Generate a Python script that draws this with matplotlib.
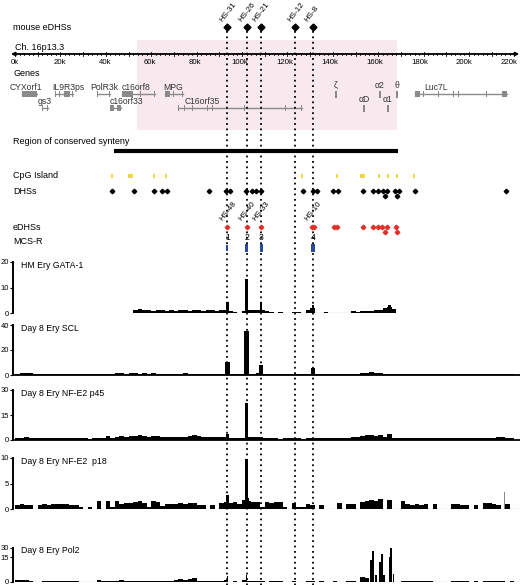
import numpy as np
import matplotlib.pyplot as plt
from matplotlib.patches import Rectangle

plt.rcParams['font.family'] = ['Liberation Sans', 'DejaVu Sans']

# ---------------- data (positions in kb along chr16p13.3) ----------------
mouse_hs_names = ['HS-31', 'HS-26', 'HS-21', 'HS-12', 'HS-8']
mouse_hs_kb = [93.6, 102.0, 108.4, 123.4, 131.3]

edhs_names = ['HS-48', 'HS-40', 'HS-33', 'HS-10']
edhs_named_kb = [93.6, 102.0, 108.4, 131.3]
edhs_kb = [93.6, 102.0, 108.4, 131.0, 131.7, 140.4, 141.7, 153.4, 157.8,
           159.9, 161.8, 164.0, 167.8]
edhs_kb_row2 = [163.0, 168.4]

mcsr_names = ['1', '2', '3', '4']
mcsr_kb = [93.6, 102.0, 108.4, 131.3]
mcsr_width = [0.9, 1.3, 1.3, 1.4]

synteny_kb = (43.6, 168.7)
pink_kb = (53.7, 168.3)

cpg_start = [42.3, 49.6, 60.8, 66.1, 126.0, 141.5, 152.2, 160.0, 163.9, 167.9, 175.4, 216.1]
cpg_end = [43.1, 51.8, 61.6, 66.9, 126.8, 142.3, 154.4, 160.8, 164.7, 168.7, 176.2, 216.5]

dhs_kb = [42.9, 52.4, 61.1, 64.6, 66.8, 85.6, 92.9, 94.7, 101.6, 104.3, 106.2,
          108.4, 126.7, 131.1, 132.9, 140.2, 142.2, 153.4, 157.8, 160.0, 162.0,
          164.0, 167.5, 169.3, 176.2, 216.3]
dhs_kb_row2 = [163.0, 168.4]

gene_names = ['CYXorf1', 'IL9R3ps', 'PolR3k', 'c16orf8', 'MPG',
              'gs3', 'c16orf33', 'C16orf35', 'Luc7L']
gene_start = [3.1, 17.6, 36.0, 47.0, 66.0, 11.9, 42.0, 71.8, 176.2]
gene_end = [9.7, 25.6, 42.0, 61.7, 74.0, 14.5, 46.5, 126.4, 216.6]
gene_row = [0, 0, 0, 0, 0, 1, 1, 1, 0]
gene_exons = [
    [(3.1, 9.7)],
    [(17.6, 18.1), (19.6, 20.0), (21.5, 24.3), (25.2, 25.6)],
    [(36.0, 36.4), (41.6, 42.0)],
    [(47.0, 52.2), (55.0, 55.4), (61.3, 61.7)],
    [(66.0, 68.2), (69.6, 70.0), (73.6, 74.0)],
    [(11.9, 12.3), (14.1, 14.5)],
    [(42.0, 43.6), (44.9, 46.5)],
    [(71.8, 72.3), (74.6, 75.0), (77.8, 78.2), (81.3, 81.7), (84.8, 85.2),
     (87.0, 87.4), (101.1, 101.5), (110.8, 111.2), (118.8, 119.2), (126.0, 126.4)],
    [(176.2, 178.4), (179.6, 180.0), (180.4, 180.8), (186.3, 186.7), (192.9, 193.3),
     (195.1, 195.5), (207.6, 208.0), (214.4, 216.6)],
]
gene_label_kb = [-2.2, 16.3, 33.0, 47.1, 65.2, 10.1, 41.9, 74.9, 180.5]

globin_names = ['\u03b6', '\u03b12', '\u03b8', '\u03b1D', '\u03b11']
globin_kb = [141.4, 160.8, 168.3, 153.7, 164.3]
globin_row = [0, 0, 0, 1, 1]

# ChIP-chip signal tracks: 2 kb bins from 0 to 220 kb, plus narrow peaks
bin_kb = np.arange(0, 220, 2)

gata1_bg = [0, 0, 0, 0, 0, 0, 0, 0, 0, 0,
            0, 0, 0, 0, 0, 0, 0, 0, 0, 0,
            0, 0, 0, 0, 0, 0, 1.2, 1.5, 1.0, 1.2,
            0.9, 1.1, 1.0, 0.9, 1.2, 0.8, 1.0, 1.1, 0.9, 1.0,
            1.1, 0.9, 1.2, 1.0, 0.9, 1.1, 1.3, 0.7, 0.5, 0,
            0.8, 1.2, 1.0, 1.1, 1.0, 0.6, 0.5, 0, 0.5, 0,
            0, 0.4, 0.4, 0, 1.0, 2.0, 0, 0, 0.4, 0,
            0, 0, 0, 0, 0.6, 0.5, 0.8, 0.6, 0.9, 1.0,
            1.2, 1.8, 2.2, 1.5, 0, 0, 0, 0, 0, 0,
            0, 0, 0, 0, 0, 0, 0, 0, 0, 0,
            0, 0, 0, 0, 0, 0, 0, 0, 0, 0]
gata1_peak_kb = [93.6, 102.0, 108.4, 131.2, 165.0]
gata1_peak_val = [4.3, 13.3, 4.5, 3.3, 3.0]

scl_bg = [0.8, 1.5, 1.6, 1.3, 0.8, 0.6, 0.7, 0.5, 0.8, 0.9,
          0.8, 0.9, 0.8, 0.7, 0.9, 1.2, 0.7, 0.5, 0.9, 0.8,
          0.7, 1.1, 1.4, 1.5, 1.2, 1.3, 1.6, 1.2, 1.4, 1.1,
          1.3, 1.0, 1.2, 0.9, 1.1, 1.0, 1.2, 1.3, 1.0, 1.1,
          1.2, 1.0, 1.1, 0.9, 1.2, 1.0, 1.0, 1.1, 0.8, 0.7,
          0.9, 0.8, 1.2, 1.5, 1.0, 0.8, 0.7, 0.9, 0.5, 0.6,
          0.6, 0.5, 0.7, 0.6, 0.8, 1.0, 0.6, 0.5, 0.7, 0.6,
          0.7, 0.6, 0.9, 0.7, 1.0, 1.2, 1.6, 2.0, 2.2, 1.8,
          1.4, 1.2, 0.9, 0.7, 0.8, 0.6, 0.7, 0.8, 0.7, 0.6,
          0.8, 0.7, 0.6, 0.8, 0.7, 0.6, 0.9, 0.7, 0.6, 0.8,
          0.7, 0.6, 0.8, 0.7, 0.6, 0.9, 0.7, 0.8, 0.6, 0.7]
scl_peak_kb = [93.6, 102.0, 108.4, 131.2]
scl_peak_val = [10.4, 35.0, 8.0, 6.0]

p45_bg = [1.2, 1.5, 1.6, 1.3, 1.0, 1.1, 1.0, 1.2, 1.1, 1.0,
          1.0, 1.1, 1.2, 1.0, 1.1, 1.3, 0.9, 1.0, 1.2, 1.1,
          2.6, 1.2, 1.8, 2.2, 1.9, 2.5, 2.3, 2.8, 2.4, 2.0,
          2.2, 2.6, 1.8, 2.0, 1.7, 1.9, 1.8, 1.6, 2.4, 2.8,
          2.5, 1.9, 1.8, 1.7, 1.9, 1.6, 1.8, 1.5, 1.2, 1.3,
          1.4, 1.6, 1.8, 2.0, 1.5, 1.2, 1.3, 1.0, 0.9, 1.1,
          1.0, 1.1, 1.0, 0.9, 1.0, 1.2, 1.1, 1.0, 1.2, 1.1,
          1.3, 1.2, 1.5, 1.4, 1.8, 1.6, 2.2, 2.8, 3.0, 2.4,
          3.2, 2.0, 3.4, 1.5, 1.2, 1.3, 1.1, 1.2, 1.4, 1.2,
          1.1, 1.0, 1.2, 1.4, 1.3, 1.2, 1.1, 1.3, 1.5, 1.4,
          1.2, 1.3, 1.1, 1.4, 1.5, 1.3, 1.6, 2.0, 1.4, 1.2]
p45_peak_kb = [93.6, 102.0, 108.4]
p45_peak_val = [3.5, 22.0, 2.0]

p18_bg = [0.8, 0.9, 0.8, 0.8, 0, 0.8, 0.9, 0.8, 1.0, 0.9,
          1.0, 0.9, 0.8, 0.7, 0.4, 0, 0.3, 0, 1.6, 0,
          1.5, 0.4, 1.6, 1.0, 1.1, 1.2, 1.3, 1.6, 1.1, 0.3,
          1.5, 1.3, 0.5, 0.9, 1.0, 1.0, 1.1, 1.0, 1.2, 1.1,
          0.8, 0.7, 0, 0.8, 0, 1.2, 1.4, 1.1, 1.3, 1.0,
          1.8, 1.5, 1.3, 1.3, 0.3, 1.3, 1.2, 1.3, 1.4, 0.3,
          0, 1.2, 0.4, 0.3, 1.0, 0.8, 0, 0.8, 0, 0,
          0, 1.2, 0, 1.0, 0.9, 0, 1.4, 1.6, 1.7, 1.5,
          2.0, 0, 1.7, 0, 0, 1.5, 0.9, 0.8, 0.9, 0.8,
          0.9, 0, 1.0, 0, 0, 0, 1.0, 0.9, 0.8, 0.7,
          0, 0.8, 0, 1.2, 1.1, 1.0, 0.8, 0, 1.0, 0]
p18_peak_kb = [93.6, 102.0, 102.8]
p18_peak_val = [2.8, 9.8, 2.2]
p18_thin_kb = [215.5]
p18_thin_val = [3.3]

pol2_bg = [1.0, 1.2, 1.0, 0.8, 0, 0, 0.6, 0.6, 0.7, 0.6,
           0.6, 0.7, 0.6, 0.5, 0, 0, 0.3, 0, 1.0, 0.4,
           0.8, 0.7, 0.8, 1.2, 0.8, 0.7, 0.6, 0.7, 0.8, 0.6,
           0.7, 0.5, 0.6, 0.8, 0.9, 1.5, 2.0, 1.2, 2.0, 2.2,
           0.4, 0.6, 0.6, 0.6, 0.6, 0.7, 1.0, 0.3, 0.4, 0,
           1.5, 0.9, 0.8, 0.8, 0.6, 0.3, 0.5, 0.5, 0.4, 0,
           0, 0.6, 0, 0, 0.5, 0.6, 0, 0.4, 0, 0,
           0.4, 0, 0, 0.8, 0.6, 0, 2.8, 2.6, 0, 0,
           0, 0, 0, 0, 0, 0.9, 0.8, 0.7, 0.8, 0.7,
           0.6, 0.4, 0, 0, 0, 0, 0.5, 0.6, 0.5, 0.6,
           0, 0.5, 0.3, 0.5, 0.5, 0.5, 0.4, 0.5, 0.3, 0.5]
pol2_peak_kb = [93.6, 102.0, 156.8, 157.6, 159.0, 160.8, 161.6, 162.4, 165.0, 165.8, 166.7]
pol2_peak_val = [3.5, 4.5, 13.5, 18.5, 4.0, 12.0, 17.0, 4.0, 15.0, 20.5, 5.0]

# ---------------- layout ----------------
W, H = 520, 585
PX_PER_KB = 2.27
X0 = 15                      # pixel x of 0 kb
XMAX = (W - X0) / PX_PER_KB

fig = plt.figure(figsize=(W / 100, H / 100), dpi=100)


def track_axes(y_zero, y_top):
    ax = fig.add_axes([X0 / W, 1 - y_zero / H, (W - X0) / W, (y_zero - y_top) / H])
    ax.set_xlim(0, XMAX)
    ax.patch.set_alpha(0)
    for s in ['top', 'right', 'bottom']:
        ax.spines[s].set_visible(False)
    ax.spines['left'].set_position(('outward', 1.5))
    ax.spines['left'].set_linewidth(1.4)
    ax.set_xticks([])
    ax.tick_params(axis='y', labelsize=5.5, length=2, width=0.8, pad=1)
    return ax


def draw_track(ax, bg, peak_kb, peak_val, peak_w, title):
    bg = np.array(bg, dtype=float)
    keep = bg > 0
    ax.bar(bin_kb[keep], bg[keep], width=2, align='edge', color='k', linewidth=0)
    ax.bar(peak_kb, peak_val, width=peak_w, color='k', linewidth=0, clip_on=False)
    ax.text(0.012, 0.93, title, transform=ax.transAxes, fontsize=6.3, va='center')


tracks = [
    ('HM Ery GATA-1', gata1_bg, gata1_peak_kb, gata1_peak_val, 1.1, 313, 262, 20, [0, 10, 20]),
    ('Day 8 Ery SCL', scl_bg, scl_peak_kb, scl_peak_val, 2.0, 375, 325, 40, [0, 20, 40]),
    ('Day 8 Ery NF-E2 p45', p45_bg, p45_peak_kb, p45_peak_val, 1.4, 440, 390, 30, [0, 15, 30]),
    ('Day 8 Ery NF-E2  p18', p18_bg, p18_peak_kb, p18_peak_val, 1.0, 509, 458, 10, [0, 5, 10]),
]
axes = []
for title, bg, pk, pv, pw, yz, yt, ymax, ticks in tracks:
    ax = track_axes(yz, yt)
    ax.set_ylim(0, ymax)
    ax.set_yticks(ticks)
    draw_track(ax, bg, pk, pv, pw, title)
    axes.append(ax)

# baselines
axes[0].plot([52, 168], [0, 0], color='#cfcfcf', lw=1.0, zorder=0)
axes[1].plot([0, XMAX], [0, 0], color='k', lw=1.3, zorder=3, clip_on=False)
axes[2].plot([0, XMAX], [0, 0], color='k', lw=1.3, zorder=3, clip_on=False)
axes[3].plot([0, XMAX], [0, 0], color='#cfcfcf', lw=1.0, zorder=0)
axes[3].bar(p18_thin_kb, p18_thin_val, width=0.35, color='#888888', linewidth=0)

# Pol2 track (axis labelled 0/15/30 as in the original figure)
ax = track_axes(582, 548)
ax.set_ylim(0, 20.4)
ax.set_yticks([0, 15, 20.4])
ax.set_yticklabels(['0', '15', '30'])
draw_track(ax, pol2_bg, pol2_peak_kb, pol2_peak_val, 0.8, 'Day 8 Ery Pol2')
ax.plot([0, XMAX], [0, 0], color='#cfcfcf', lw=1.0, zorder=0)

# ---------------- overlay (annotation area) ----------------
ov = fig.add_axes([X0 / W, 0, (W - X0) / W, 1])
ov.set_xlim(0, XMAX)
ov.set_ylim(H, 0)
ov.axis('off')
ov.set_zorder(10)
ov.patch.set_alpha(0)

LX = (13 - X0) / PX_PER_KB
lab = dict(fontsize=6.5, va='center', ha='left')

# shaded region
ov.add_patch(Rectangle((pink_kb[0], 40), pink_kb[1] - pink_kb[0], 90,
                       facecolor='#f8e9ef', edgecolor='none', zorder=0))

# mouse eDHSs
ov.text(LX, 27, 'mouse eDHSs', **lab)
ov.plot(mouse_hs_kb, [27] * len(mouse_hs_kb), 'D', color='k', ms=3.5, zorder=6)
for name, k in zip(mouse_hs_names, mouse_hs_kb):
    ov.text(k - 1.6, 23, name, rotation=52, rotation_mode='anchor',
            ha='left', va='bottom', fontsize=5.8)

# chromosome axis
ov.text(LX + 1, 47, 'Ch. 16p13.3', **lab)
ov.annotate('', xy=(XMAX - 0.3, 54), xytext=(-1.8, 54),
            arrowprops=dict(arrowstyle='<|-|>', color='k', lw=1.3,
                            mutation_scale=5, shrinkA=0, shrinkB=0))
for k in np.arange(0, 221, 2):
    h = 2.3 if k % 10 == 0 else 1.3
    ov.plot([k, k], [54 - h, 54 + h], color='k', lw=0.6, clip_on=False)
for k in range(0, 221, 20):
    ov.text(k * 0.99, 62, '%dk' % k, fontsize=5.6, ha='center', va='center')

# genes
ov.text(LX, 73, 'Genes', **lab)
gene_color = '#8a8a8a'
row_y = [94, 108]
row_label_y = [87, 101]
for name, s, e, r, exons, lx in zip(gene_names, gene_start, gene_end, gene_row,
                                    gene_exons, gene_label_kb):
    y = row_y[r]
    ov.plot([s, e], [y, y], color=gene_color, lw=1.0, zorder=2)
    for a, b in exons:
        ov.add_patch(Rectangle((a, y - 2.6), b - a, 5.2, facecolor=gene_color,
                               edgecolor='none', zorder=3))
    ov.text(lx, row_label_y[r], name, fontsize=6.2, ha='left', va='center', color='#333333')
for name, k, r in zip(globin_names, globin_kb, globin_row):
    y = row_y[r]
    ov.add_patch(Rectangle((k - 0.45, y - 3.5), 0.9, 7, facecolor=gene_color,
                           edgecolor='none', zorder=3))
    ov.text(k, y - 9, name, fontsize=6.2, ha='center', va='center', color='#333333')

# region of conserved synteny
ov.text(LX, 141, 'Region of conserved synteny', **lab)
ov.plot(synteny_kb, [151, 151], color='k', lw=3, solid_capstyle='butt')

# CpG islands
ov.text(LX, 176, 'CpG Island', **lab)
for s, e in zip(cpg_start, cpg_end):
    ov.add_patch(Rectangle((s, 174.2), e - s, 3.6, facecolor='#f0d83e',
                           edgecolor='none', zorder=3))

# DHSs
ov.text(LX, 191, 'DHSs', **lab)
ov.plot(dhs_kb, [191] * len(dhs_kb), 'D', color='k', ms=2.3, zorder=6)
ov.plot(dhs_kb_row2, [196] * len(dhs_kb_row2), 'D', color='k', ms=2.3, zorder=6)

# eDHSs
ov.text(LX, 227, 'eDHSs', **lab)
ov.plot(edhs_kb, [227] * len(edhs_kb), 'D', color='#e0302c', ms=2.3, zorder=6)
ov.plot(edhs_kb_row2, [232] * len(edhs_kb_row2), 'D', color='#e0302c', ms=2.3, zorder=6)
for name, k in zip(edhs_names, edhs_named_kb):
    ov.text(k - 1.6, 222, name, rotation=52, rotation_mode='anchor',
            ha='left', va='bottom', fontsize=5.8)

# MCS-R
ov.text(LX, 242, 'MCS-R', **lab)
for name, k, w in zip(mcsr_names, mcsr_kb, mcsr_width):
    ov.text(k, 237, name, fontsize=6.2, ha='center', va='center')
    h = 6 if name == '1' else 8
    ov.add_patch(Rectangle((k - w / 2, 248 - h / 2), w, h, facecolor='#2a4a9c',
                           edgecolor='none', zorder=5))

# dotted guide lines
for k in mouse_hs_kb:
    ov.plot([k, k], [31, H], color='k', lw=1.3, linestyle=(0, (1, 2)), zorder=4)

fig.savefig('out.png', dpi=100)
